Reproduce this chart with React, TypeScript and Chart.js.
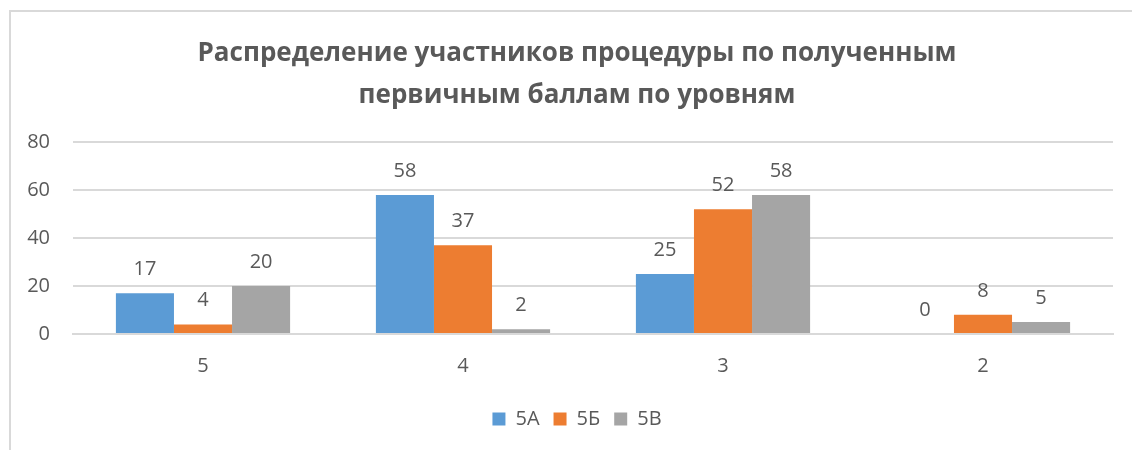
import React, { useEffect, useRef } from "react";
import { Chart, registerables } from "chart.js";

Chart.register(...registerables);

const categories = ["5", "4", "3", "2"];
const series5A = [17, 58, 25, 0];
const series5B = [4, 37, 52, 8];
const series5V = [20, 2, 58, 5];
const seriesNames = ["5А", "5Б", "5В"];
const titleLines = [
  "Распределение участников процедуры по полученным",
  "первичным баллам по уровням",
];

const FONT = "'Open Sans', 'DejaVu Sans', sans-serif";
const TEXT = "#595959";

const dataLabels = {
  id: "dataLabels",
  afterDatasetsDraw(chart: any) {
    const ctx = chart.ctx;
    ctx.save();
    ctx.font = `20px ${FONT}`;
    ctx.fillStyle = TEXT;
    ctx.textAlign = "center";
    ctx.textBaseline = "middle";
    chart.data.datasets.forEach((ds: any, i: number) => {
      const meta = chart.getDatasetMeta(i);
      meta.data.forEach((el: any, j: number) => {
        ctx.fillText(String(ds.data[j]), el.x, el.y - 24);
      });
    });
    ctx.restore();
  },
};

export default function App() {
  const ref = useRef<HTMLCanvasElement | null>(null);
  useEffect(() => {
    if (!ref.current) return;
    const chart = new Chart(ref.current, {
      type: "bar",
      data: {
        labels: categories,
        datasets: [
          { label: seriesNames[0], data: series5A, backgroundColor: "#5B9BD5" },
          { label: seriesNames[1], data: series5B, backgroundColor: "#ED7D31" },
          { label: seriesNames[2], data: series5V, backgroundColor: "#A5A5A5" },
        ],
      },
      options: {
        animation: false,
        responsive: false,
        maintainAspectRatio: false,
        layout: { padding: { top: 21, left: 0, right: 0, bottom: 11 } },
        datasets: {
          bar: { categoryPercentage: 0.67, barPercentage: 1 },
        } as any,
        plugins: {
          title: {
            display: true,
            text: titleLines,
            color: TEXT,
            font: { family: FONT, size: 26, weight: "bold", lineHeight: 1.6 },
            padding: { top: 0, bottom: 26 },
          },
          legend: {
            position: "bottom",
            labels: {
              color: TEXT,
              font: { family: FONT, size: 20 },
              boxWidth: 13,
              boxHeight: 13,
              padding: 14,
            },
          },
          tooltip: { enabled: false },
        },
        scales: {
          x: {
            grid: { display: false, drawTicks: false },
            border: { color: "#D9D9D9", width: 2 },
            ticks: { color: TEXT, font: { family: FONT, size: 20 }, padding: 20 },
            afterFit(scale: any) {
              scale.height = 61;
            },
          },
          y: {
            min: 0,
            max: 80,
            ticks: { stepSize: 20, color: TEXT, font: { family: FONT, size: 20 }, padding: 23 },
            grid: { color: "#D9D9D9", lineWidth: 2, drawTicks: false },
            border: { display: false },
            afterFit(scale: any) {
              scale.width = 62;
            },
          },
          yRight: {
            position: "right",
            min: 0,
            max: 80,
            ticks: { display: false },
            grid: { display: false, drawTicks: false },
            border: { display: false },
            afterFit(scale: any) {
              scale.width = 30;
            },
          },
        },
      },
      plugins: [dataLabels],
    });
    return () => chart.destroy();
  }, []);
  return (
    <div style={{ position: "fixed", left: 0, top: 0, width: 1132, height: 450, overflow: "hidden", background: "#fff" }}>
      <div
        style={{
          position: "absolute",
          left: 9,
          top: 10,
          width: 1132,
          height: 460,
          border: "2px solid #D9D9D9",
          background: "#fff",
        }}
      >
        <canvas ref={ref} width={1132} height={438} style={{ display: "block" }} />
      </div>
    </div>
  );
}
